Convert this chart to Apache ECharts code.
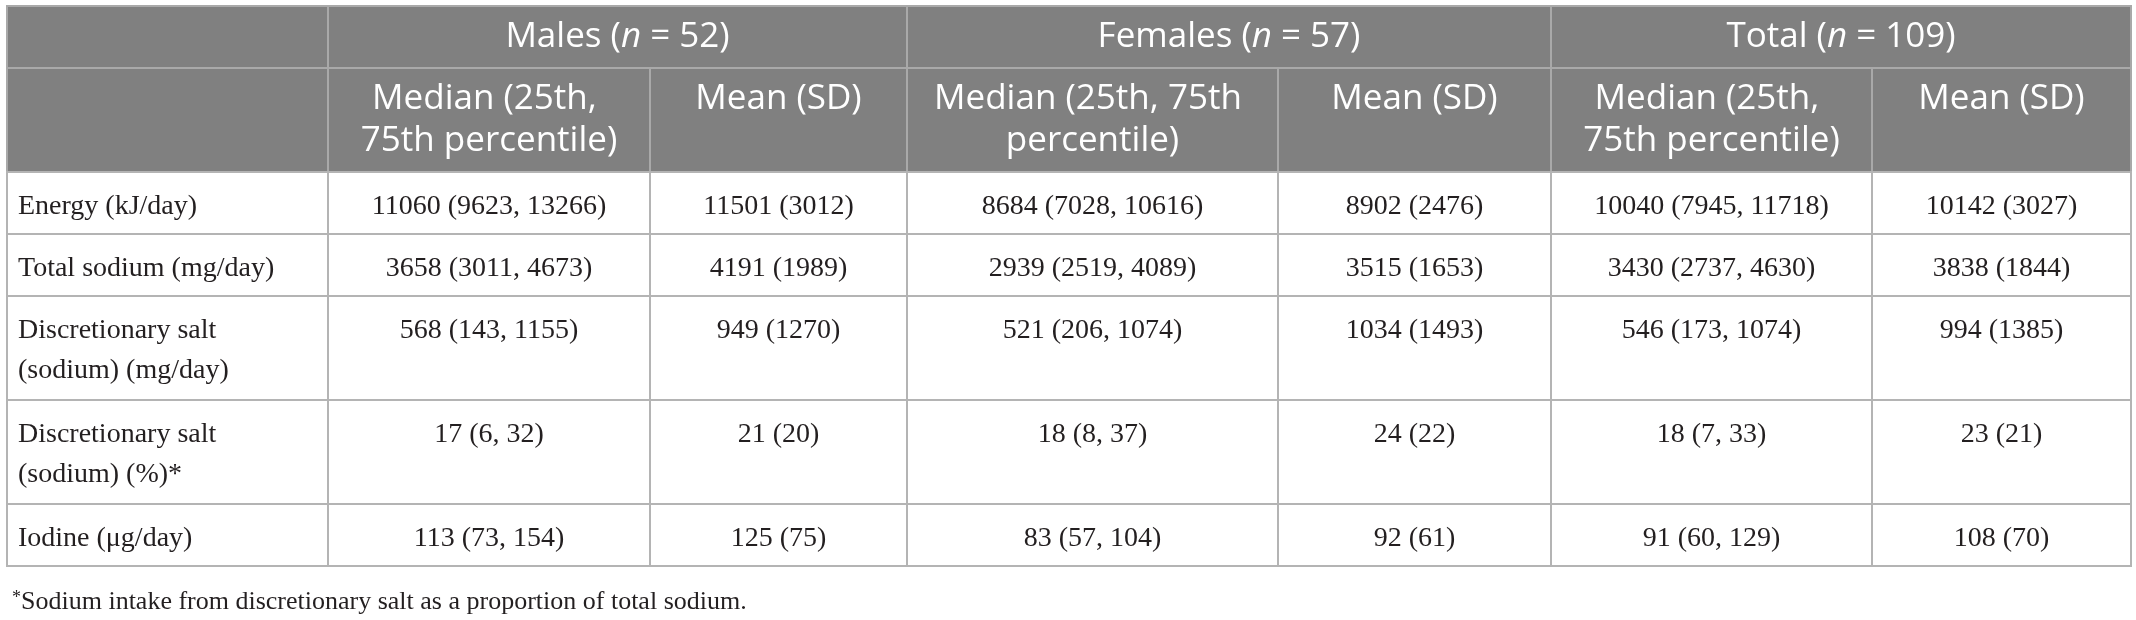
<!DOCTYPE html>
<html>
<head>
<meta charset="utf-8">
<script src="https://cdn.jsdelivr.net/npm/echarts@6/dist/echarts.min.js"></script>
<style>
  html, body { margin: 0; padding: 0; background: #fff; }
  #table { width: 2136px; height: 620px; }
</style>
</head>
<body>
<div id="table"></div>
<script>
var groups = ['Males', 'Females', 'Total'];
var groupN = [52, 57, 109];
var subHeaders = ['Median (25th, 75th percentile)', 'Mean (SD)'];
var rowLabels = [
    'Energy (kJ/day)',
    'Total sodium (mg/day)',
    'Discretionary salt\n(sodium) (mg/day)',
    'Discretionary salt\n(sodium) (%)*',
    'Iodine (\u03bcg/day)'
];

var maleMedian = [11060, 3658, 568, 17, 113];
var maleQ1 = [9623, 3011, 143, 6, 73];
var maleQ3 = [13266, 4673, 1155, 32, 154];
var maleMean = [11501, 4191, 949, 21, 125];
var maleSD = [3012, 1989, 1270, 20, 75];

var femaleMedian = [8684, 2939, 521, 18, 83];
var femaleQ1 = [7028, 2519, 206, 8, 57];
var femaleQ3 = [10616, 4089, 1074, 37, 104];
var femaleMean = [8902, 3515, 1034, 24, 92];
var femaleSD = [2476, 1653, 1493, 22, 61];

var totalMedian = [10040, 3430, 546, 18, 91];
var totalQ1 = [7945, 2737, 173, 7, 60];
var totalQ3 = [11718, 4630, 1074, 33, 129];
var totalMean = [10142, 3838, 994, 23, 108];
var totalSD = [3027, 1844, 1385, 21, 70];

var footnote = 'Sodium intake from discretionary salt as a proportion of total sodium.';

// ---- layout ----
var colWidths = [321, 322, 257, 371, 273, 321, 259];
var headerHeights = [62, 104];
var lineStep = 42;
var oneLineHeight = 62;

var colEdges = [0];
colWidths.forEach(function (w) { colEdges.push(colEdges[colEdges.length - 1] + w); });

var rowEdges = [0];
headerHeights.forEach(function (h) { rowEdges.push(rowEdges[rowEdges.length - 1] + h); });
rowLabels.forEach(function (lab) {
    var lines = lab.split('\n').length;
    rowEdges.push(rowEdges[rowEdges.length - 1] + oneLineHeight + lineStep * (lines - 1));
});

var stats = [
    [maleMedian, maleQ1, maleQ3, maleMean, maleSD],
    [femaleMedian, femaleQ1, femaleQ3, femaleMean, femaleSD],
    [totalMedian, totalQ1, totalQ3, totalMean, totalSD]
];

// cells: [x0, x1, y0, y1], plus text + kind
var cells = [];
function addCell(c0, c1, r0, r1, text, kind) {
    cells.push({ value: [colEdges[c0], colEdges[c1], rowEdges[r0], rowEdges[r1]], text: text, kind: kind });
}
addCell(0, 1, 0, 1, '', 'head');
addCell(0, 1, 1, 2, '', 'head');
groups.forEach(function (g, i) {
    addCell(1 + i * 2, 3 + i * 2, 0, 1, '{r|' + g + ' (}{i|n}{r| = ' + groupN[i] + ')}', 'group');
    subHeaders.forEach(function (s, j) {
        addCell(1 + i * 2 + j, 2 + i * 2 + j, 1, 2, s, 'sub');
    });
});
rowLabels.forEach(function (lab, r) {
    addCell(0, 1, r + 2, r + 3, lab, 'label');
    stats.forEach(function (st, i) {
        addCell(1 + i * 2, 2 + i * 2, r + 2, r + 3, st[0][r] + ' (' + st[1][r] + ', ' + st[2][r] + ')', 'value');
        addCell(2 + i * 2, 3 + i * 2, r + 2, r + 3, st[3][r] + ' (' + st[4][r] + ')', 'value');
    });
});

var sansFont = '"Open Sans", "Noto Sans", sans-serif';
var serifFont = '"Liberation Serif", "DejaVu Serif", serif';

var myChart = echarts.init(document.getElementById('table'));
var option = {
    animation: false,
    title: {
        text: '{s|*}{t|' + footnote + '}',
        left: 7,
        top: 584,
        textStyle: {
            fontWeight: 'normal',
            rich: {
                s: { fontFamily: serifFont, fontSize: 18, fontWeight: 'normal', color: '#231f20', verticalAlign: 'top', padding: [0, 0, 8, 0] },
                t: { fontFamily: serifFont, fontSize: 26, fontWeight: 'normal', color: '#231f20' }
            }
        }
    },
    grid: { left: 7, top: 6, width: colEdges[colEdges.length - 1], height: rowEdges[rowEdges.length - 1] },
    xAxis: { type: 'value', min: 0, max: colEdges[colEdges.length - 1], show: false },
    yAxis: { type: 'value', min: 0, max: rowEdges[rowEdges.length - 1], inverse: true, show: false },
    series: [{
        type: 'custom',
        silent: true,
        data: cells,
        encode: { x: [0, 1], y: [2, 3] },
        renderItem: function (params, api) {
            var cell = cells[params.dataIndex];
            var p0 = api.coord([api.value(0), api.value(2)]);
            var p1 = api.coord([api.value(1), api.value(3)]);
            var isHead = cell.kind === 'head' || cell.kind === 'group' || cell.kind === 'sub';
            var w = p1[0] - p0[0], h = p1[1] - p0[1];
            var children = [{
                type: 'rect',
                shape: { x: p0[0], y: p0[1], width: w, height: h },
                style: { fill: isHead ? '#808080' : '#ffffff', stroke: isHead ? '#a9a9a9' : '#b4b4b4', lineWidth: 2 }
            }];
            if (cell.text) {
                var style;
                if (isHead) {
                    style = {
                        text: cell.text,
                        fill: '#ffffff',
                        fontFamily: sansFont,
                        fontSize: 35,
                        lineHeight: 42,
                        align: 'center',
                        verticalAlign: 'top',
                        width: w - 30,
                        overflow: 'break',
                        rich: {
                            r: { fill: '#ffffff', fontFamily: sansFont, fontSize: 35, lineHeight: 42 },
                            i: { fill: '#ffffff', fontFamily: sansFont, fontSize: 35, lineHeight: 42, fontStyle: 'italic' }
                        }
                    };
                    children.push({ type: 'text', x: p0[0] + w / 2, y: p0[1] + 10, style: style });
                } else {
                    style = {
                        text: cell.text,
                        fill: '#231f20',
                        fontFamily: serifFont,
                        fontSize: 28,
                        lineHeight: 40,
                        align: cell.kind === 'label' ? 'left' : 'center',
                        verticalAlign: 'top'
                    };
                    children.push({
                        type: 'text',
                        x: cell.kind === 'label' ? p0[0] + 11 : p0[0] + w / 2,
                        y: p0[1] + 15,
                        style: style
                    });
                }
            }
            return { type: 'group', children: children };
        }
    }]
};
myChart.setOption(option);
</script>
</body>
</html>
